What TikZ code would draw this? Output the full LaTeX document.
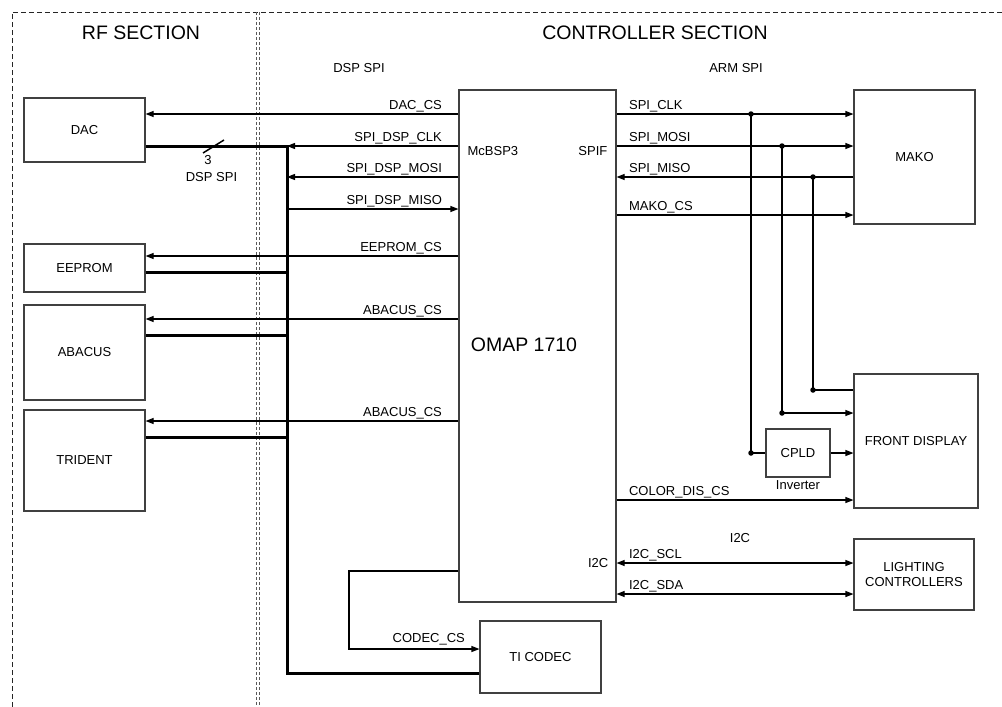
\documentclass[tikz,border=0pt]{standalone}
\usepackage{fontspec}
\setmainfont{Liberation Sans}
\usetikzlibrary{arrows.meta}

\newcommand{\sigfont}{\fontsize{13}{15}\selectfont}
\newcommand{\secfont}{\fontsize{19.5}{22}\selectfont}

\begin{document}
\begin{tikzpicture}[x=1pt,y=-1pt,
  box/.style={draw=black!75,line width=1.1pt,inner sep=0pt,font=\sigfont,align=center},
  sigtxt/.style={font=\sigfont,inner sep=0pt},
  lblL/.style={sigtxt,anchor=base east,xshift=-16pt,yshift=4.5pt},
  lblR/.style={sigtxt,anchor=base west,xshift=12pt,yshift=4.5pt},
  wire/.style={line width=1.1pt,black},
  sig/.style={wire,-{Triangle[length=8pt,width=6pt]}},
  bisig/.style={wire,{Triangle[length=8pt,width=6pt]}-{Triangle[length=8pt,width=6pt]}},
  bus/.style={line width=3pt,black},
  border/.style={line width=0.9pt,black!85,dash pattern=on 5pt off 3pt},
  divider/.style={line width=0.8pt,black!65,dash pattern=on 3pt off 2pt},
  dot/.style={circle,fill=black,inner sep=0pt,minimum size=5.5pt}
]
\useasboundingbox (0,0) rectangle (1002,707);

% Sections
\draw[border] (12,707) -- (12,12) -- (1002,12);
\draw[divider] (256,12) -- (256,707);
\draw[divider] (259,12) -- (259,707);
\node[font=\secfont] (rfsec) at (141,33) {RF SECTION};
\node[font=\secfont] (ctlsec) at (655,33) {CONTROLLER SECTION};
\node[sigtxt] (dspspi) at (359,68) {DSP SPI};
\node[sigtxt] (armspi) at (736,68) {ARM SPI};

% Blocks
\node[box,minimum width=121pt,minimum height=64pt] (dac) at (84.5,130) {DAC};
\node[box,minimum width=121pt,minimum height=48pt] (eeprom) at (84.5,268) {EEPROM};
\node[box,minimum width=121pt,minimum height=95pt] (abacus) at (84.5,352.5) {ABACUS};
\node[box,minimum width=121pt,minimum height=101pt] (trident) at (84.5,460.5) {TRIDENT};
\node[box,minimum width=157pt,minimum height=512pt] (omap) at (537.5,346) {};
\node[font=\secfont] (omapname) at (524,345) {OMAP 1710};
\node[box,minimum width=121pt,minimum height=72pt] (codec) at (540.5,657) {TI CODEC};
\node[box,minimum width=121pt,minimum height=134pt] (mako) at (914.5,157) {MAKO};
\node[box,minimum width=124pt,minimum height=134pt] (front) at (916,441) {FRONT DISPLAY};
\node[box,minimum width=64pt,minimum height=48pt] (cpld) at (798,453) {CPLD};
\node[sigtxt] (inv) at (798,485) {Inverter};
\node[box,minimum width=120pt,minimum height=71pt] (light) at (914,574.5) {LIGHTING\\CONTROLLERS};

% Port names
\node[sigtxt,anchor=west,xshift=9pt] (mcbsp) at (omap.west |- 0,151) {McBSP3};
\node[sigtxt,anchor=east,xshift=-9pt] (spif) at (omap.east |- 0,151) {SPIF};
\node[sigtxt,anchor=east,xshift=-8pt] (i2cport) at (omap.east |- 0,563) {I2C};

% DSP SPI bus
\coordinate (busT) at (287,146);
\coordinate (busB) at (287,673);
\draw[bus] (dac.east |- busT) -- (busT) -- (busB) -- (codec.west |- busB);
\draw[bus] (eeprom.east |- 0,272) -- (busT |- 0,272);
\draw[bus] (abacus.east |- 0,335) -- (busT |- 0,335);
\draw[bus] (trident.east |- 0,437) -- (busT |- 0,437);
\draw[line width=1.5pt] (203,153) -- (224,140);
\node[sigtxt] (buswidth) at (208,160) {3};
\node[sigtxt] (busname) at (211.5,177) {DSP SPI};

% Chip selects and SPI, left side
\draw[sig] (omap.west |- 0,114) node[lblL]{DAC\_CS} -- (dac.east |- 0,114);
\draw[sig] (omap.west |- busT) node[lblL]{SPI\_DSP\_CLK} -- (busT);
\draw[sig] (omap.west |- 0,177) node[lblL]{SPI\_DSP\_MOSI} -- (busT |- 0,177);
\draw[sig] (busT |- 0,209) -- (omap.west |- 0,209) node[lblL]{SPI\_DSP\_MISO};
\draw[sig] (omap.west |- 0,256) node[lblL]{EEPROM\_CS} -- (eeprom.east |- 0,256);
\draw[sig] (omap.west |- 0,319) node[lblL]{ABACUS\_CS} -- (abacus.east |- 0,319);
\draw[sig] (omap.west |- 0,421) node[lblL]{ABACUS\_CS} -- (trident.east |- 0,421);
\draw[sig] (omap.west |- 0,571) -- (349,571) |- (codec.west |- 0,649)
  node[sigtxt,anchor=base east,xshift=-14pt,yshift=7pt]{CODEC\_CS};

% ARM SPI, right side
\coordinate (jClk) at (751,114);
\coordinate (jMosi) at (782,146);
\coordinate (jMiso) at (813,177);
\draw[sig] (omap.east |- jClk) node[lblR]{SPI\_CLK} -- (mako.west |- jClk);
\draw[sig] (omap.east |- jMosi) node[lblR]{SPI\_MOSI} -- (mako.west |- jMosi);
\draw[sig] (mako.west |- jMiso) -- (omap.east |- jMiso) node[lblR]{SPI\_MISO};
\draw[sig] (omap.east |- 0,215) node[lblR]{MAKO\_CS} -- (mako.west |- 0,215);
\draw[wire] (jMiso) -- (813,390) -- (front.west |- 0,390);
\draw[sig] (jMosi) -- (782,413) -- (front.west |- 0,413);
\draw[wire] (jClk) |- (cpld.west);
\draw[sig] (cpld.east) -- (front.west |- cpld.east);
\node[dot] at (jClk) {};
\node[dot] at (jMosi) {};
\node[dot] at (jMiso) {};
\node[dot] at (813,390) {};
\node[dot] at (782,413) {};
\node[dot] at (751,453) {};
\draw[sig] (omap.east |- 0,500) node[lblR]{COLOR\_DIS\_CS} -- (front.west |- 0,500);

% I2C
\node[sigtxt] (i2cname) at (740,538) {I2C};
\draw[bisig] (omap.east |- 0,563) node[lblR]{I2C\_SCL} -- (light.west |- 0,563);
\draw[bisig] (omap.east |- 0,594) node[lblR]{I2C\_SDA} -- (light.west |- 0,594);
\end{tikzpicture}
\end{document}
